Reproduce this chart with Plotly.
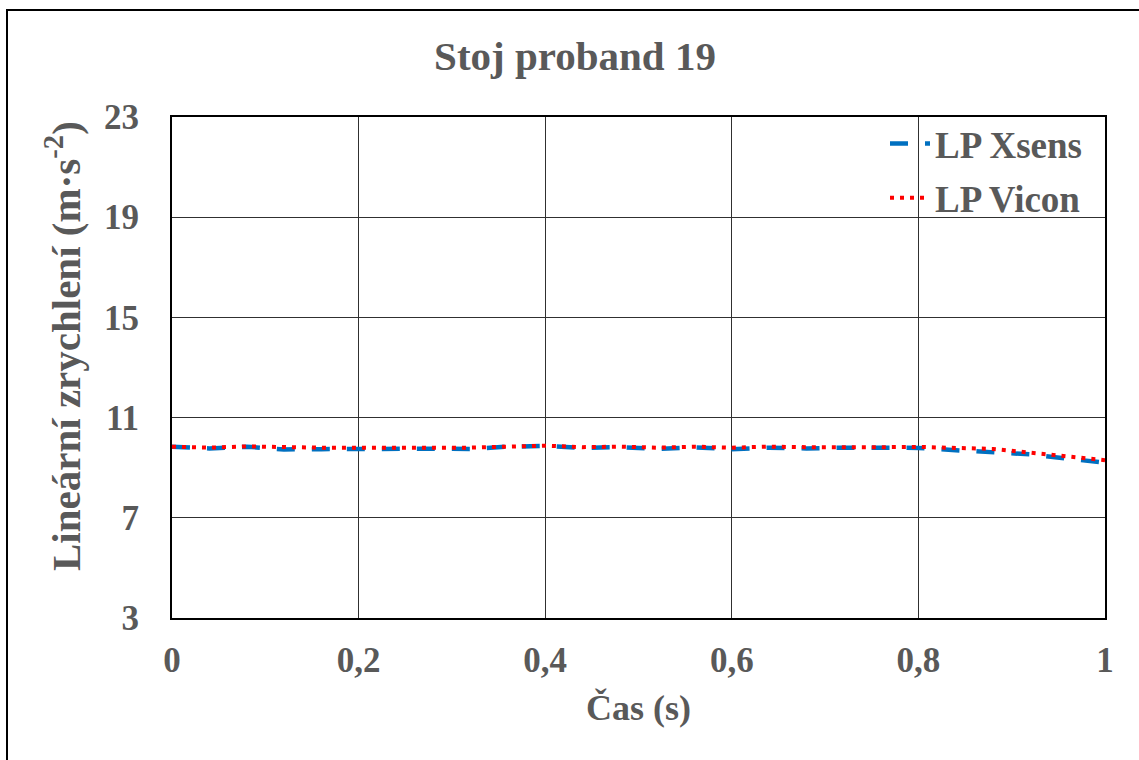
import plotly.graph_objects as go

# Data
time_s = [0.00, 0.04, 0.08, 0.12, 0.16, 0.20, 0.24, 0.28, 0.32, 0.36, 0.40, 0.44, 0.48,
          0.52, 0.56, 0.60, 0.64, 0.68, 0.72, 0.76, 0.80, 0.84, 0.88, 0.92, 0.96, 1.00]
lp_xsens = [9.84, 9.77, 9.84, 9.73, 9.74, 9.75, 9.79, 9.76, 9.75, 9.84, 9.87, 9.79, 9.82,
            9.75, 9.81, 9.74, 9.80, 9.77, 9.80, 9.78, 9.79, 9.70, 9.62, 9.53, 9.36, 9.20]
lp_vicon = [9.84, 9.80, 9.85, 9.81, 9.80, 9.80, 9.82, 9.80, 9.80, 9.86, 9.88, 9.82, 9.84,
            9.80, 9.84, 9.80, 9.84, 9.82, 9.84, 9.82, 9.83, 9.78, 9.75, 9.60, 9.45, 9.30]

x_ticks = [0, 0.2, 0.4, 0.6, 0.8, 1.0]
x_tick_text = ["0", "0,2", "0,4", "0,6", "0,8", "1"]
y_ticks = [3, 7, 11, 15, 19, 23]

title_text = "Stoj proband 19"
x_title = "Čas (s)"
y_title = "Lineární zrychlení (m·s<sup>-2</sup>)"

FONT = "Liberation Serif"
GREY = "#595959"

fig = go.Figure()
fig.add_trace(go.Scatter(x=time_s, y=lp_xsens, mode="lines", name="LP Xsens", legendgroup="a",
                         line=dict(color="#0070C0", width=4.5, dash="18px,17px")))
fig.add_trace(go.Scatter(x=time_s, y=lp_vicon, mode="lines", name="LP Vicon", legendgroup="b",
                         line=dict(color="#FF0000", width=4, dash="4px,6px")))

L, R, T, B = 172, 34, 117, 142
W, H = 1139, 760
pw, ph = W - L - R, H - T - B

fig.update_layout(
    width=W, height=H,
    margin=dict(l=L, r=R, t=T, b=B),
    paper_bgcolor="white", plot_bgcolor="white",
    font=dict(family=FONT, color=GREY, size=35, weight="bold"),
    title=dict(text=title_text, x=575 / W, xanchor="center", xref="container",
               y=1 - 56 / H, yanchor="middle", yref="container",
               font=dict(family=FONT, size=41, color=GREY, weight="bold")),
    showlegend=True,
    legend=dict(x=(937 - 52 - L) / pw, xanchor="left", y=1.008, yanchor="top",
                bgcolor="rgba(0,0,0,0)", font=dict(family=FONT, size=37, color=GREY, weight="bold"),
                itemwidth=40, tracegroupgap=3),
    xaxis=dict(range=[0, 1], tickvals=x_ticks, ticktext=x_tick_text,
               showgrid=True, gridcolor="#303030", gridwidth=1,
               showline=True, linecolor="black", linewidth=2, mirror=True,
               zeroline=False, ticks="", ticklabelstandoff=10,
               tickfont=dict(family=FONT, size=35, color=GREY, weight="bold"),
               title=dict(text=x_title, standoff=16,
                          font=dict(family=FONT, size=36, color=GREY, weight="bold"))),
    yaxis=dict(range=[3, 23], tickvals=y_ticks,
               showgrid=True, gridcolor="#303030", gridwidth=1,
               showline=True, linecolor="black", linewidth=2, mirror=True,
               zeroline=False, ticks="", ticklabelstandoff=24,
               tickfont=dict(family=FONT, size=35, color=GREY, weight="bold")),
    annotations=[dict(text=y_title, textangle=-90, xref="paper", yref="paper",
                      x=(63 - L) / pw, y=(T + ph - 346) / ph, xanchor="center", yanchor="middle",
                      showarrow=False,
                      font=dict(family=FONT, size=41, color=GREY, weight="bold"))],
)

# outer chart-area border
fig.add_shape(type="rect", xref="paper", yref="paper",
              x0=(7 - L) / pw, x1=(W + 10 - L) / pw,
              y0=(T + ph - (H + 10)) / ph, y1=(T + ph - 10) / ph,
              line=dict(color="black", width=2), fillcolor="rgba(0,0,0,0)", layer="below")

fig.write_html("out.html")
